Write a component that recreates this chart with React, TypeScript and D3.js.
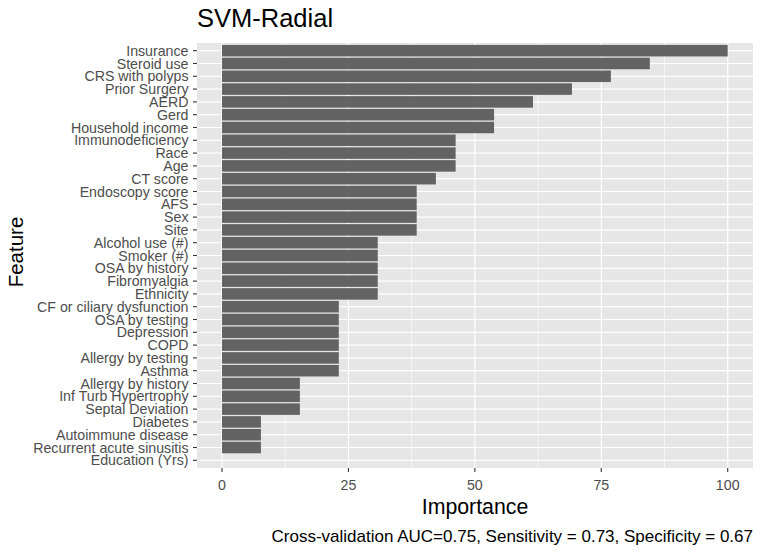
import React from "react";
import * as d3 from "d3";

const features = [
  "Insurance", "Steroid use", "CRS with polyps", "Prior Surgery", "AERD", "Gerd",
  "Household income", "Immunodeficiency", "Race", "Age", "CT score", "Endoscopy score",
  "AFS", "Sex", "Site", "Alcohol use (#)", "Smoker (#)", "OSA by history", "Fibromyalgia",
  "Ethnicity", "CF or ciliary dysfunction", "OSA by testing", "Depression", "COPD",
  "Allergy by testing", "Asthma", "Allergy by history", "Inf Turb Hypertrophy",
  "Septal Deviation", "Diabetes", "Autoimmune disease", "Recurrent acute sinusitis",
  "Education (Yrs)",
];
const importance = [
  100, 84.6, 76.9, 69.2, 61.5, 53.8, 53.8, 46.2, 46.2, 46.2, 42.3, 38.5, 38.5, 38.5, 38.5,
  30.8, 30.8, 30.8, 30.8, 30.8, 23.1, 23.1, 23.1, 23.1, 23.1, 23.1, 15.4, 15.4, 15.4,
  7.7, 7.7, 7.7, 0,
];
const xTicks = [0, 25, 50, 75, 100];
const xMinor = [12.5, 37.5, 62.5, 87.5];
const titleText = "SVM-Radial";
const xLabel = "Importance";
const yLabel = "Feature";
const caption = "Cross-validation AUC=0.75, Sensitivity = 0.73, Specificity = 0.67";

export default function App() {
  const W = 760, H = 552;
  const left = 197, right = 753, top = 43, bottom = 468;
  const x0 = d3.scaleLinear().domain([0, 100]).range([222, 727.7]);
  const step = (bottom - top) / (features.length + 0.2);
  const yb = d3
    .scaleBand<string>()
    .domain(features)
    .range([top + 0.6 * step - step / 2, bottom - 0.6 * step + step / 2])
    .paddingInner(0.1)
    .paddingOuter(0.05);
  const yc = (f: string) => (yb(f) as number) + yb.bandwidth() / 2;
  const bw = yb.bandwidth();
  const font = "'Liberation Sans', Arial, sans-serif";
  return (
    <svg width={W} height={H} style={{ position: "absolute", left: 0, top: 0 }} fontFamily={font}>
      <rect x={0} y={0} width={W} height={H} fill="#fff" />
      <text x={left} y={27} fontSize={25.5} fill="#000">{titleText}</text>
      <rect x={left} y={top} width={right - left} height={bottom - top} fill="#e6e6e6" />
      {xMinor.map((t) => (
        <line key={"m" + t} x1={x0(t)} x2={x0(t)} y1={top} y2={bottom} stroke="#fff" strokeWidth={0.6} />
      ))}
      {xTicks.map((t) => (
        <line key={"M" + t} x1={x0(t)} x2={x0(t)} y1={top} y2={bottom} stroke="#fff" strokeWidth={1.2} />
      ))}
      {features.map((f) => (
        <line key={"h" + f} x1={left} x2={right} y1={yc(f)} y2={yc(f)} stroke="#fff" strokeWidth={1.2} />
      ))}
      {features.map((f, i) => (
        <rect key={"b" + f} x={x0(0)} y={yc(f) - bw / 2} width={Math.max(0, x0(importance[i]) - x0(0))} height={bw} fill="#636363" />
      ))}
      {features.map((f) => (
        <g key={"t" + f}>
          <line x1={left - 4} x2={left} y1={yc(f)} y2={yc(f)} stroke="#333" strokeWidth={1.1} />
          <text x={left - 8.5} y={yc(f)} dy="0.36em" textAnchor="end" fontSize={14.2} fill="#4d4d4d">{f}</text>
        </g>
      ))}
      {xTicks.map((t) => (
        <g key={"xt" + t}>
          <line x1={x0(t)} x2={x0(t)} y1={bottom} y2={bottom + 4} stroke="#333" strokeWidth={1.1} />
          <text x={x0(t)} y={490} textAnchor="middle" fontSize={14.2} fill="#4d4d4d">{t}</text>
        </g>
      ))}
      <text x={(left + right) / 2} y={514} textAnchor="middle" fontSize={21.3} fill="#000">{xLabel}</text>
      <text transform={`translate(23, 252) rotate(-90)`} textAnchor="middle" fontSize={20.5} fill="#000">{yLabel}</text>
      <text x={right} y={542} textAnchor="end" fontSize={17} fill="#000">{caption}</text>
    </svg>
  );
}
